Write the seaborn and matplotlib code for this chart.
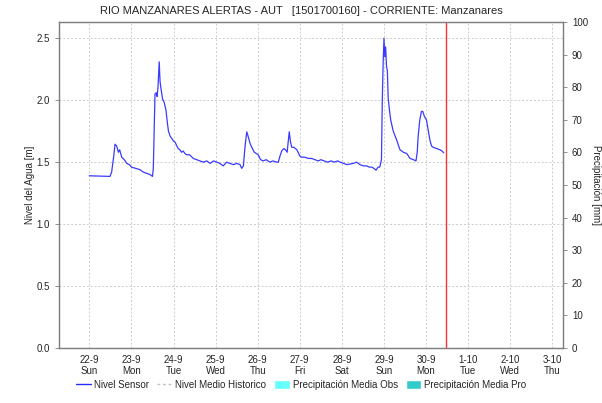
import pandas as pd
import numpy as np
import seaborn as sns
import matplotlib.pyplot as plt
from matplotlib.lines import Line2D
from matplotlib.patches import Patch

sns.set_style("white")
plt.rcParams['font.family'] = ['Liberation Sans', 'DejaVu Sans']

# Sensor readings: days after 22-9 00:00 and water level [m]
sensor_days = [
    0.00, 0.49, 0.53, 0.58, 0.61, 0.65, 0.69, 0.72, 0.77, 0.83, 0.89, 0.95,
    1.00, 1.10, 1.20, 1.28, 1.36, 1.44, 1.50, 1.52, 1.54, 1.56, 1.59, 1.61,
    1.63, 1.65, 1.66, 1.68, 1.70, 1.74, 1.78, 1.82, 1.86, 1.88, 1.92, 1.96,
    2.00, 2.04, 2.08, 2.11, 2.15, 2.19, 2.23, 2.27, 2.31, 2.38, 2.47, 2.55,
    2.63, 2.71, 2.79, 2.87, 2.95, 3.03, 3.10, 3.18, 3.26, 3.34, 3.42, 3.50,
    3.58, 3.62, 3.66, 3.70, 3.74, 3.78, 3.82, 3.86, 3.92, 4.01, 4.07, 4.13,
    4.20, 4.29, 4.36, 4.45, 4.49, 4.53, 4.57, 4.62, 4.66, 4.70, 4.72, 4.75,
    4.78, 4.81, 4.86, 4.93, 5.00, 5.05, 5.12, 5.20, 5.28, 5.36, 5.44, 5.50,
    5.58, 5.66, 5.74, 5.82, 5.90, 5.96, 6.04, 6.12, 6.19, 6.27, 6.35, 6.43,
    6.51, 6.59, 6.65, 6.71, 6.76, 6.81, 6.86, 6.90, 6.94, 6.96, 6.98, 7.00,
    7.02, 7.04, 7.06, 7.08, 7.10, 7.13, 7.16, 7.22, 7.30, 7.38, 7.46, 7.54,
    7.62, 7.70, 7.76, 7.79, 7.81, 7.85, 7.89, 7.92, 7.96, 8.01, 8.05, 8.09,
    8.13, 8.17, 8.25, 8.33, 8.38, 8.42,
]
sensor_level = [
    1.39, 1.385, 1.42, 1.55, 1.645, 1.63, 1.58, 1.60, 1.54, 1.52, 1.49, 1.48,
    1.46, 1.45, 1.44, 1.42, 1.41, 1.40, 1.385, 1.45, 1.75, 2.05, 2.06, 2.03,
    2.10, 2.25, 2.31, 2.15, 2.10, 2.01, 1.98, 1.92, 1.80, 1.75, 1.71, 1.69,
    1.67, 1.66, 1.63, 1.61, 1.60, 1.58, 1.59, 1.57, 1.56, 1.56, 1.53, 1.52,
    1.51, 1.50, 1.51, 1.49, 1.51, 1.50, 1.49, 1.47, 1.50, 1.49, 1.48, 1.49,
    1.48, 1.45, 1.47, 1.63, 1.745, 1.70, 1.65, 1.62, 1.58, 1.56, 1.52, 1.51,
    1.52, 1.50, 1.51, 1.50, 1.50, 1.55, 1.59, 1.61, 1.60, 1.58, 1.65, 1.745,
    1.66, 1.62, 1.62, 1.60, 1.55, 1.54, 1.54, 1.53, 1.53, 1.52, 1.51, 1.52,
    1.51, 1.50, 1.51, 1.50, 1.51, 1.50, 1.49, 1.48, 1.485, 1.49, 1.50, 1.48,
    1.47, 1.47, 1.46, 1.46, 1.45, 1.435, 1.46, 1.46, 1.52, 2.00, 2.30, 2.50,
    2.35, 2.43, 2.27, 2.24, 2.02, 1.92, 1.84, 1.75, 1.68, 1.60, 1.58, 1.57,
    1.53, 1.52, 1.51, 1.58, 1.70, 1.84, 1.91, 1.91, 1.87, 1.84, 1.76, 1.68,
    1.63, 1.62, 1.61, 1.60, 1.59, 1.575,
]

start = pd.Timestamp('2024-09-22')
tick_days = list(range(12))
tick_labels = ['22-9\nSun', '23-9\nMon', '24-9\nTue', '25-9\nWed', '26-9\nThu', '27-9\nFri',
               '28-9\nSat', '29-9\nSun', '30-9\nMon', '1-10\nTue', '2-10\nWed', '3-10\nThu']
now_day = 8.47

df = pd.DataFrame({
    'time': start + pd.to_timedelta(sensor_days, unit='D'),
    'nivel': sensor_level,
})

fig = plt.figure(figsize=(6.02, 4.03), dpi=100)
ax = fig.add_axes([0.098, 0.1365, 0.837, 0.8085])

sns.lineplot(data=df, x='time', y='nivel', ax=ax, color='#3a3aff', linewidth=0.9)
ax.axvline(start + pd.Timedelta(days=now_day), color='#ff3030', linewidth=1.0)

ax.set_xlim(start - pd.Timedelta(hours=17.3), start + pd.Timedelta(hours=270))
ax.set_ylim(0, 2.63)
ax.set_xticks([start + pd.Timedelta(days=d) for d in tick_days])
ax.set_xticklabels(tick_labels, linespacing=1.15)
ax.set_yticks(np.arange(0, 2.51, 0.5))
ax.set_yticklabels([f'{v:.1f}' for v in np.arange(0, 2.51, 0.5)])
ax.grid(True, color='#cccccc', linestyle=(0, (2, 2)), linewidth=0.7)
ax.set_xlabel('')
ax.set_ylabel('Nivel del Agua [m]', fontsize=7, labelpad=1)
ax.tick_params(axis='both', labelsize=7, length=3, width=0.6, direction='out', color='#808080')
ax.tick_params(axis='y', left=True)
ax.tick_params(axis='x', bottom=False, pad=2)
for s in ax.spines.values():
    s.set_color('#808080')
    s.set_linewidth(0.9)

ax2 = ax.twinx()
ax2.set_ylim(0, 100)
ax2.set_yticks(range(0, 101, 10))
ax2.set_ylabel('Precipitación [mm]', fontsize=7, rotation=-90, labelpad=9)
ax2.tick_params(axis='y', labelsize=7, length=3, width=0.6, direction='out', color='#808080')
ax2.grid(False)
for s in ax2.spines.values():
    s.set_color('#808080')
    s.set_linewidth(0.9)

fig.text(0.5, 0.972, 'RIO MANZANARES ALERTAS - AUT   [1501700160] - CORRIENTE: Manzanares',
         ha='center', va='center', fontsize=8)

handles = [
    Line2D([], [], color='#2a2aff', linewidth=1.0, label='Nivel Sensor'),
    Line2D([], [], color='#c0c0c0', linestyle=(0, (2, 2)), linewidth=1.0, label='Nivel Medio Historico'),
    Patch(facecolor='#66ffff', label='Precipitación Media Obs'),
    Patch(facecolor='#33cccc', label='Precipitación Media Pro'),
]
fig.legend(handles=handles, loc='center', bbox_to_anchor=(0.5, 0.045), ncol=4, frameon=False,
           fontsize=7, handlelength=1.6, handletextpad=0.3, columnspacing=0.8,
           handleheight=0.9)

fig.savefig('out.png', dpi=100)
